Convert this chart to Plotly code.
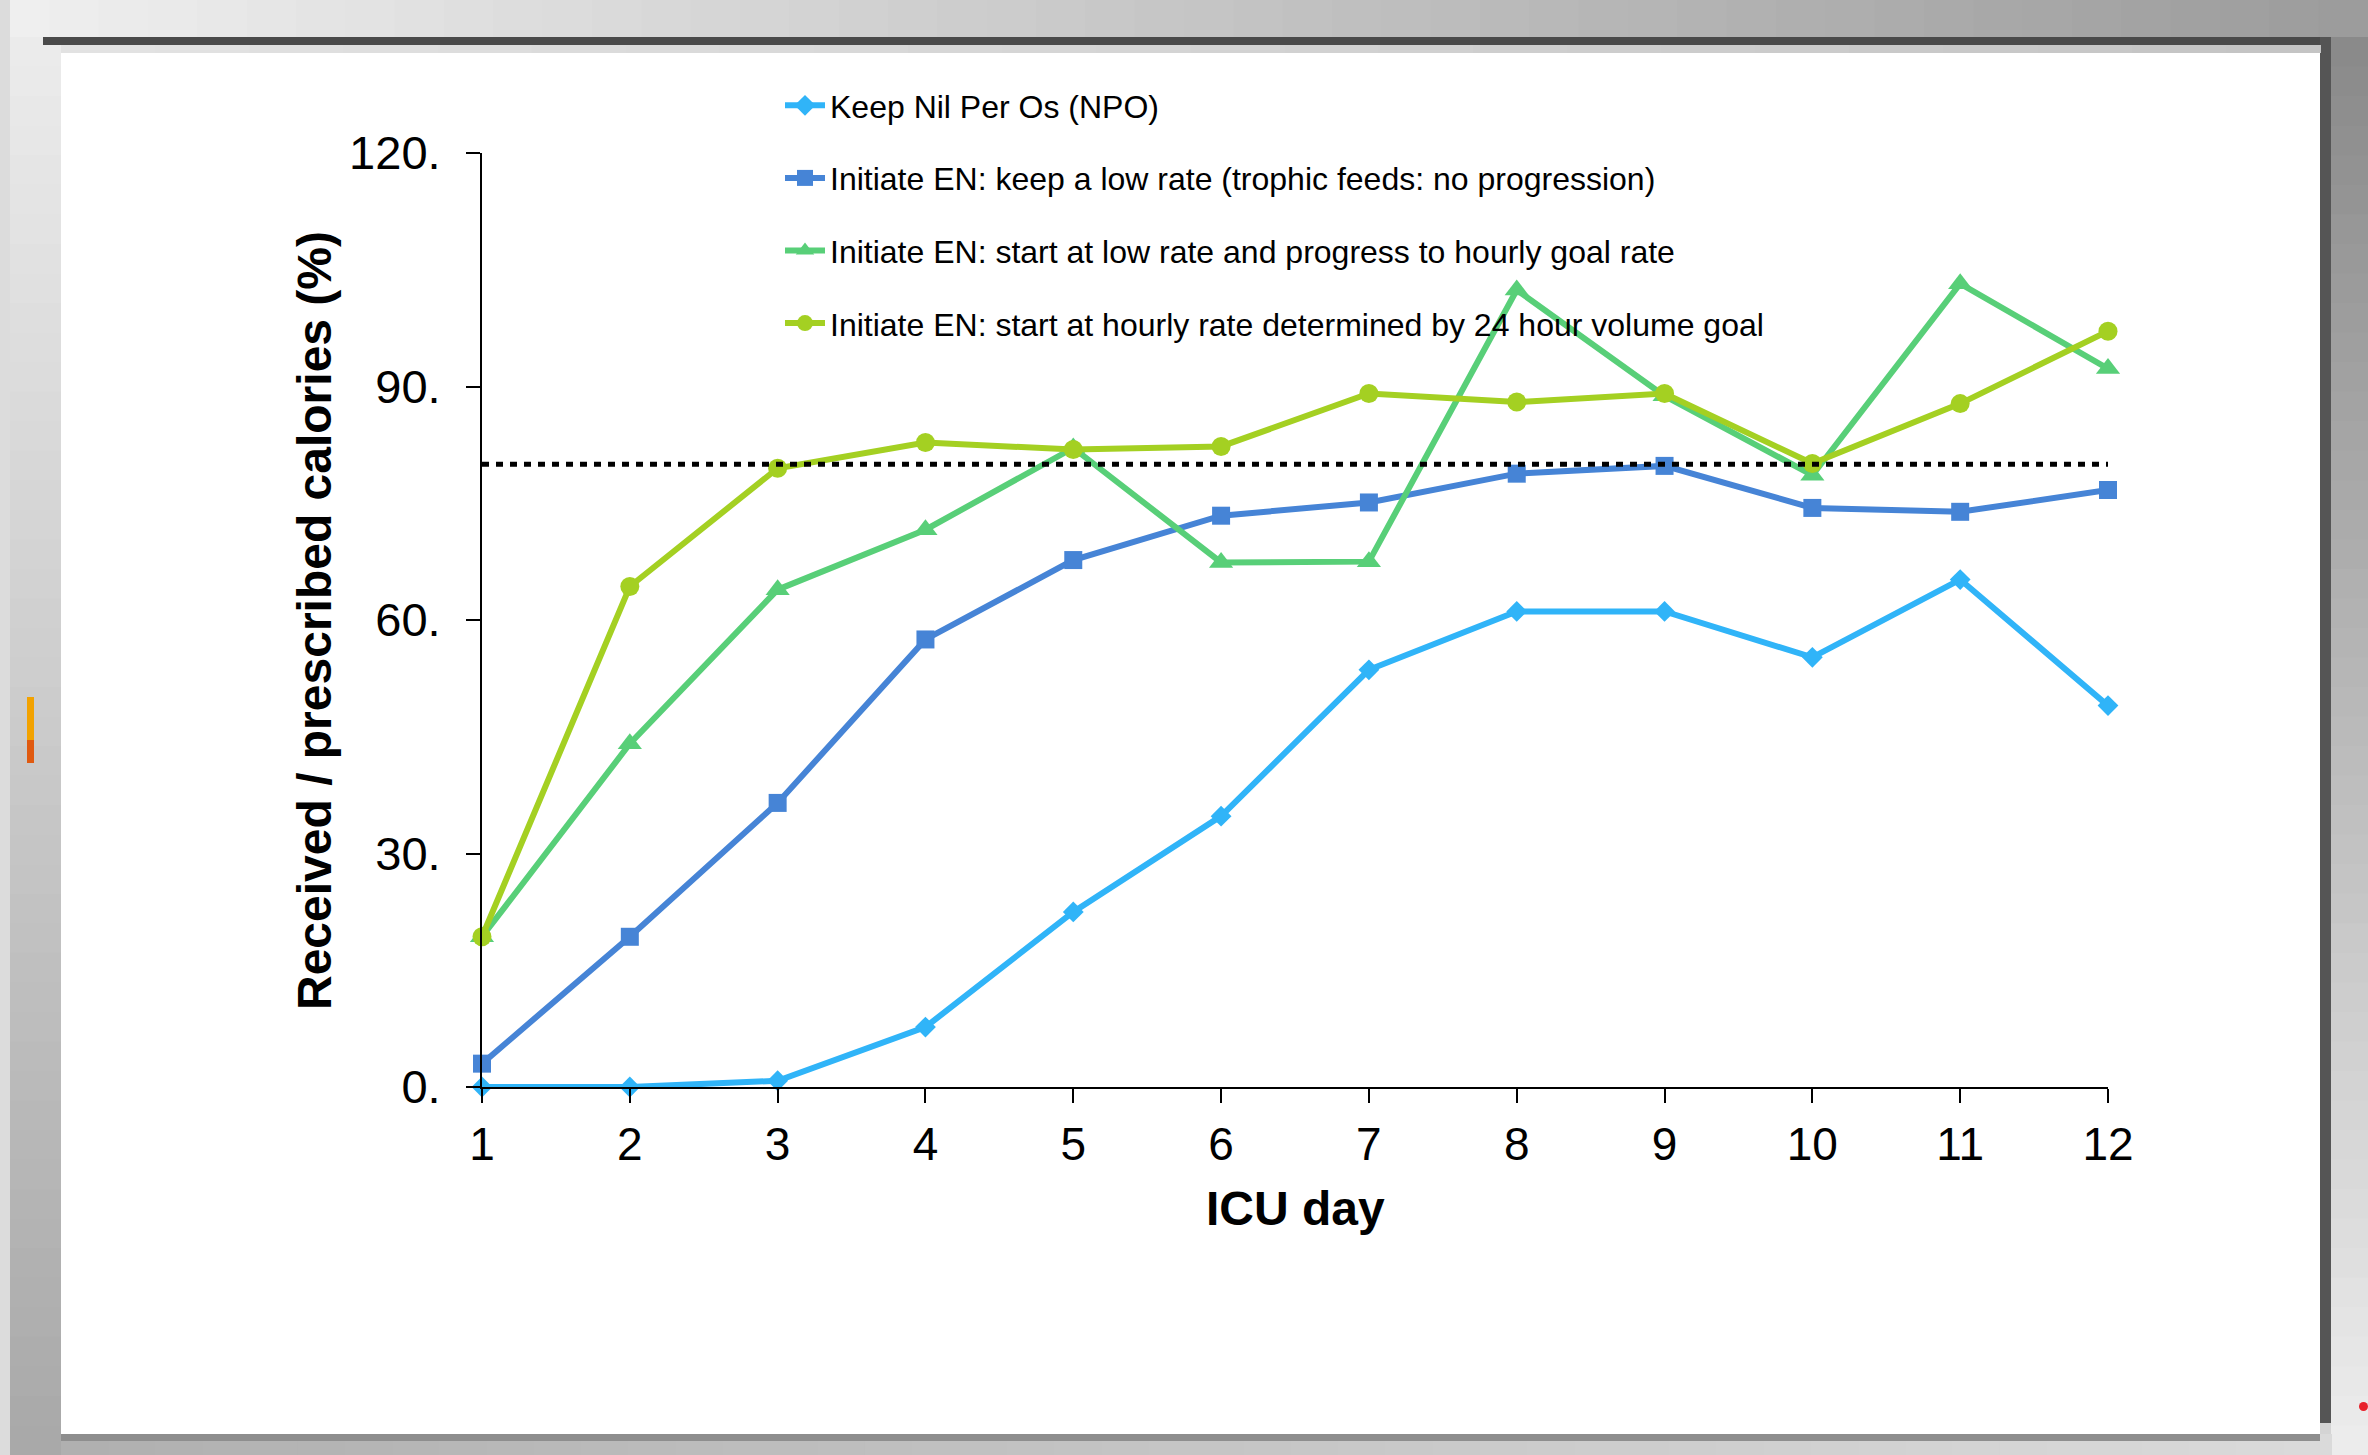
import plotly.graph_objects as go

# ICU day on the x axis
days = [1, 2, 3, 4, 5, 6, 7, 8, 9, 10, 11, 12]

# Received / prescribed calories (%) per feeding strategy
npo = [0.0, 0.0, 0.8, 7.7, 22.5, 34.8, 53.6, 61.1, 61.1, 55.2, 65.2, 49.0]
low_rate = [3.0, 19.3, 36.5, 57.5, 67.7, 73.4, 75.1, 78.8, 79.8, 74.4, 73.9, 76.7]
progress = [19.3, 44.1, 63.9, 71.6, 82.1, 67.4, 67.5, 102.4, 88.8, 78.6, 103.2, 92.3]
hourly = [19.3, 64.3, 79.5, 82.8, 81.9, 82.3, 89.1, 88.0, 89.1, 80.1, 87.8, 97.1]

series_names = [
    "Keep Nil Per Os (NPO)",
    "Initiate EN: keep a low rate (trophic feeds: no progression)",
    "Initiate EN: start at low rate and progress to hourly goal rate",
    "Initiate EN: start at hourly rate determined by 24 hour volume goal",
]

# Target line (80 %)
target = 80

y_tickvals = [0, 30, 60, 90, 120]
y_ticktext = ["0.", "30.", "60.", "90.", "120."]

W, H = 2368, 1455
L, R, T, B = 482, 260, 153, 368
PW, PH = W - L - R, H - T - B
FONT = "Liberation Sans, Arial, sans-serif"


def px(x):
    return (x - L) / PW


def py(y):
    return (H - B - y) / PH


fig = go.Figure()

styles = [
    dict(color="#30b4f8", symbol="diamond", size=16),
    dict(color="#4684d6", symbol="square", size=18),
    dict(color="#58cf78", symbol="triangle-up", size=21),
    dict(color="#a4d022", symbol="circle", size=19),
]

for i, (name, vals) in enumerate(zip(series_names, [npo, low_rate, progress, hourly])):
    st = styles[i]
    fig.add_trace(go.Scatter(
        x=days, y=vals, name=name, mode="lines+markers",
        line=dict(color=st["color"], width=6),
        marker=dict(color=st["color"], symbol=st["symbol"], size=st["size"]),
        legendgroup=f"g{i}", cliponaxis=False,
    ))

# Dotted 80 % reference line
fig.add_trace(go.Scatter(
    x=[days[0], days[-1]], y=[target, target], mode="lines",
    line=dict(color="black", width=5, dash="7px,7px"),
    showlegend=False, hoverinfo="skip", cliponaxis=False,
))

shapes = []


def rect(x0, y0, x1, y1, color, layer="below"):
    shapes.append(dict(type="rect", xref="paper", yref="paper",
                       x0=px(x0), x1=px(x1), y0=py(y0), y1=py(y1),
                       fillcolor=color, line=dict(width=0), layer=layer))


def lerp_hex(c0, c1, t):
    a = [int(c0[k:k + 2], 16) for k in (1, 3, 5)]
    b = [int(c1[k:k + 2], 16) for k in (1, 3, 5)]
    return "#" + "".join(f"{round(a[j] + (b[j] - a[j]) * t):02x}" for j in range(3))


def hband(x0, x1, y0, y1, c0, c1, n=48):
    step = (x1 - x0) / n
    for k in range(n):
        rect(x0 + k * step, y0, x0 + (k + 1) * step + 1, y1, lerp_hex(c0, c1, k / (n - 1)))


def vband(x0, x1, y0, y1, c0, c1, n=48):
    step = (y1 - y0) / n
    for k in range(n):
        rect(x0, y0 + k * step, x1, y0 + (k + 1) * step + 1, lerp_hex(c0, c1, k / (n - 1)))


# Surrounding backdrop
hband(0, W, 0, 37, "#efefef", "#9c9c9c")
vband(0, 61, 37, H, "#ebebeb", "#a9a9a9")
rect(0, 0, 10, H, "#dcdcdc")
vband(2331, W, 37, H, "#8a8a8a", "#ececec")
hband(61, 2331, 1434, H, "#b0b0b0", "#dadada")
rect(61, 1434, 2320, 1441, "#8e8e8e")
# Frame border
rect(43, 37, 2331, 45, "#4a4a4a")
rect(2320, 37, 2331, 1423, "#555555")
hband(61, 2320, 45, 53, "#e2e2e2", "#c4c4c4", n=24)
# White panel
rect(61, 53, 2320, 1434, "#ffffff")
# Small marks on the backdrop
rect(27, 697, 34, 740, "#f2a200")
rect(27, 740, 34, 763, "#e05a10")
shapes.append(dict(type="circle", xref="paper", yref="paper",
                   x0=px(2359), x1=px(2368), y0=py(1402), y1=py(1411),
                   fillcolor="#e8202a", line=dict(width=0), layer="below"))

fig.update_layout(
    width=W, height=H,
    margin=dict(l=L, r=R, t=T, b=B, pad=0),
    paper_bgcolor="#d4d4d4",
    plot_bgcolor="rgba(0,0,0,0)",
    font=dict(family=FONT, color="black"),
    shapes=shapes,
    showlegend=True,
    legend=dict(
        x=px(780), y=py(78), xanchor="left", yanchor="top",
        font=dict(family=FONT, size=32, color="black"),
        bgcolor="rgba(0,0,0,0)", tracegroupgap=28, itemwidth=40,
    ),
    xaxis=dict(
        range=[1, 12], tickvals=days, ticktext=[str(d) for d in days],
        showgrid=False, zeroline=False, showline=True, linecolor="black", linewidth=2,
        ticks="outside", ticklen=14, tickwidth=2, tickcolor="black",
        tickfont=dict(family=FONT, size=46), ticklabelstandoff=2,
    ),
    yaxis=dict(
        range=[0, 120], tickvals=y_tickvals, ticktext=y_ticktext,
        showgrid=False, zeroline=False, showline=True, linecolor="black", linewidth=2,
        ticks="outside", ticklen=14, tickwidth=2, tickcolor="black",
        tickfont=dict(family=FONT, size=47), ticklabelstandoff=16,
    ),
    annotations=[
        dict(text="<b>Received / prescribed calories (%)</b>", xref="paper", yref="paper",
             x=px(314), y=py(621), xanchor="center", yanchor="middle", textangle=-90,
             showarrow=False, font=dict(family=FONT, size=48, color="black")),
        dict(text="<b>ICU day</b>", xref="paper", yref="paper",
             x=0.5, y=py(1208), xanchor="center", yanchor="middle",
             showarrow=False, font=dict(family=FONT, size=48, color="black")),
    ],
)

fig.write_html("out.html")
